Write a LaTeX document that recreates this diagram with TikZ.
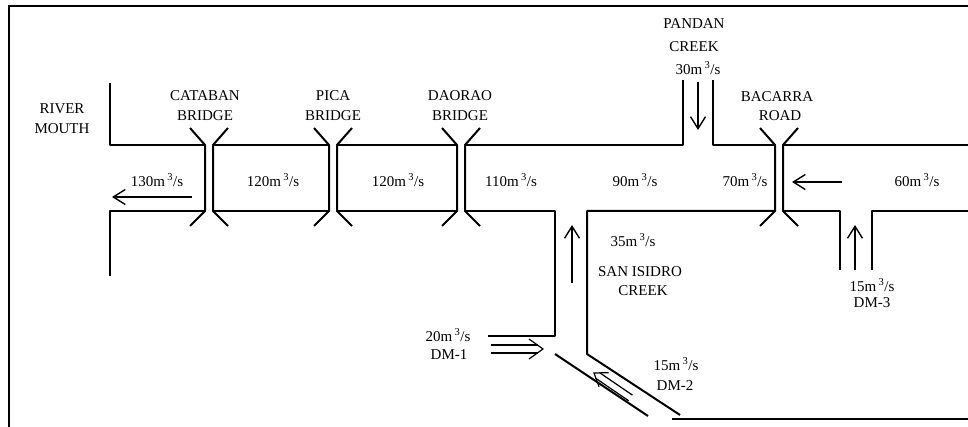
\documentclass[tikz,border=0pt]{standalone}
\usepackage{fontspec}
\setmainfont{Liberation Serif}
\usetikzlibrary{arrows.meta}
\begin{document}
\begin{tikzpicture}[x=1pt,y=-1pt,
  bank/.style={line width=2pt, line join=round},
  frameline/.style={line width=2pt},
  flow/.style={line width=1.4pt,-{Straight Barb[length=12pt,width=15pt]}},
  dblarr/.pic={
    \draw[line width=1.2pt] (-52,-4) -- (-5,-4) (-52,4) -- (-5,4);
    \draw[line width=1.2pt, line join=miter] (-14,-10) -- (0,0) -- (-14,10);
  },
  lbl/.style={font=\fontsize{15}{15}\selectfont, inner sep=0pt},
  qlbl/.style={font=\fontsize{15}{15}\selectfont, inner sep=0pt}]
\useasboundingbox (0,0) rectangle (968,427);
% frame
\draw[frameline] (968,6) -- (9,6) -- (9,427);
\draw[line width=1.3pt] (672,419) -- (968,419);
% bridges
\foreach \c in {209,333,461,779} {
  \draw[bank] (\c-19,128) -- (\c-4,145) -- (\c-4,211) -- (\c-19,226);
  \draw[bank] (\c+19,128) -- (\c+4,145) -- (\c+4,211) -- (\c+19,226);
}
% top bank
\draw[bank] (110,83) -- (110,145) -- (205,145);
\draw[bank] (213,145) -- (329,145);
\draw[bank] (337,145) -- (457,145);
\draw[bank] (465,145) -- (683,145) -- (683,80);
\draw[bank] (713,80) -- (713,145) -- (775,145);
\draw[bank] (783,145) -- (968,145);
% bottom bank
\draw[bank] (110,276) -- (110,211) -- (205,211);
\draw[bank] (213,211) -- (329,211);
\draw[bank] (337,211) -- (457,211);
\draw[bank] (465,211) -- (555,211) -- (555,336) -- (488,336);
\draw[bank] (555,354) -- (648,416);
\draw[bank] (775,211) -- (587,211) -- (587,354) -- (680,415);
\draw[bank] (783,211) -- (840,211) -- (840,270);
\draw[bank] (872,270) -- (872,211) -- (968,211);
% flow arrows
\draw[flow] (192,197) -- (112,197);
\draw[flow] (842,182) -- (792,182);
\draw[flow] (698,82) -- (698,130);
\draw[flow] (572,283) -- (572,225);
\draw[flow] (855,270) -- (855,225);
\pic at (543,349) {dblarr};
\pic[rotate=145.7, scale=0.85] at (594,373) {dblarr};
% labels
\node[lbl] (rv) at (62,109) {RIVER};
\node[lbl] (rm) at (62,129) {MOUTH};
\node[lbl] (cb1) at (205,96) {CATABAN};
\node[lbl] (cb2) at (205,116) {BRIDGE};
\node[lbl] (pb1) at (333,96) {PICA};
\node[lbl] (pb2) at (333,116) {BRIDGE};
\node[lbl] (db1) at (460,96) {DAORAO};
\node[lbl] (db2) at (460,116) {BRIDGE};
\node[lbl] (pc1) at (694,24) {PANDAN};
\node[lbl] (pc2) at (694,47) {CREEK};
\node[qlbl] (pc3) at (698,68) {30m\,\textsuperscript{3}/s};
\node[lbl] (br1) at (777,97) {BACARRA};
\node[lbl] (br2) at (780,116) {ROAD};
\node[qlbl] (q1) at (157,180) {130m\,\textsuperscript{3}/s};
\node[qlbl] (q2) at (273,180) {120m\,\textsuperscript{3}/s};
\node[qlbl] (q3) at (398,180) {120m\,\textsuperscript{3}/s};
\node[qlbl] (q4) at (511,180) {110m\,\textsuperscript{3}/s};
\node[qlbl] (q5) at (635,180) {90m\,\textsuperscript{3}/s};
\node[qlbl] (q6) at (745,180) {70m\,\textsuperscript{3}/s};
\node[qlbl] (q7) at (917,180) {60m\,\textsuperscript{3}/s};
\node[qlbl] (si1) at (633,240) {35m\,\textsuperscript{3}/s};
\node[lbl] (si2) at (640,272) {SAN ISIDRO};
\node[lbl] (si3) at (643,291) {CREEK};
\node[qlbl] (d11) at (448,335) {20m\,\textsuperscript{3}/s};
\node[lbl] (d12) at (449,355) {DM-1};
\node[qlbl] (d21) at (676,364) {15m\,\textsuperscript{3}/s};
\node[lbl] (d22) at (675,386) {DM-2};
\node[qlbl] (d31) at (872,285) {15m\,\textsuperscript{3}/s};
\node[lbl] (d32) at (872,303) {DM-3};
\end{tikzpicture}
\end{document}
